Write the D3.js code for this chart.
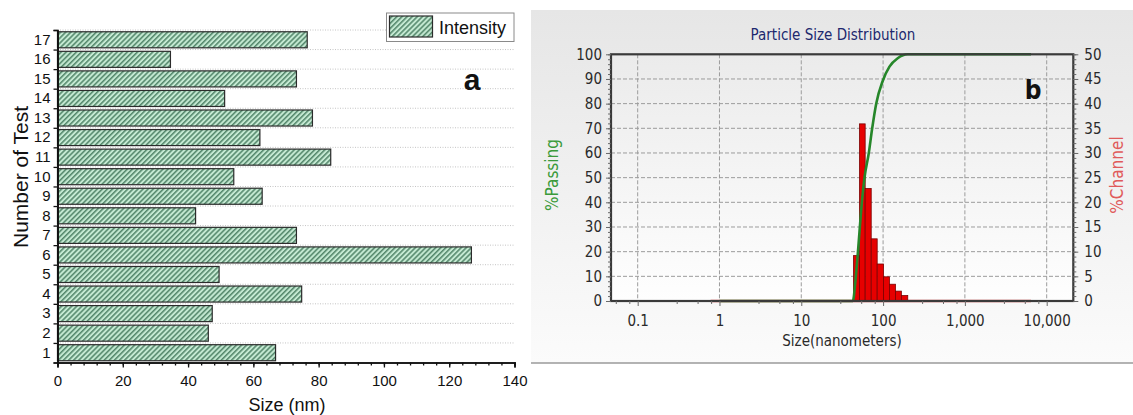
<!DOCTYPE html>
<html>
<head>
<meta charset="utf-8">
<script src="https://cdn.jsdelivr.net/npm/d3@7"></script>
<style>
body { margin: 0; background: #fff; }
text { font-family: "Liberation Sans", Arial, sans-serif; }
.pb text { font-family: "DejaVu Sans Condensed", "DejaVu Sans", sans-serif; }
</style>
</head>
<body>
<svg id="chart" width="1133" height="415"></svg>
<script>
// panel a: mean size of each test
const testIds = ["1","2","3","4","5","6","7","8","9","10","11","12","13","14","15","16","17"];
const testSizes = [66.8, 46.2, 47.4, 74.8, 49.5, 126.8, 73.2, 42.3, 62.7, 54.0, 83.7, 62.0, 78.1, 51.2, 73.2, 34.6, 76.5];
const sizeTicks = [0, 20, 40, 60, 80, 100, 120, 140];

// panel b: channel histogram (bin edges in nm) and cumulative passing curve
const channelEdges = [43.5, 51.5, 60.4, 71.6, 84.7, 101.2, 119.7, 141.6, 167.3, 200.3];
const channelPct = [9.2, 35.9, 22.8, 12.6, 7.5, 4.9, 3.4, 2.0, 1.1];
const channelSpan = [0.78, 6430];
const passSize = [1, 42.7, 46.0, 49.1, 54.9, 59.3, 66.9, 73.6, 82.4, 99.2, 119.7, 151, 200, 6430];
const passPct = [0, 0, 8.5, 19.3, 39.6, 50, 60, 70, 80, 89.3, 95, 98.4, 100, 100];
const decadeTicks = [0.1, 1, 10, 100, 1000, 10000];
const passTicks = [0, 10, 20, 30, 40, 50, 60, 70, 80, 90, 100];
const channelTicks = [0, 5, 10, 15, 20, 25, 30, 35, 40, 45, 50];

const svg = d3.select("#chart");
const defs = svg.append("defs");

const hatch = defs.append("pattern")
  .attr("id", "hatch")
  .attr("patternUnits", "userSpaceOnUse")
  .attr("width", 3.6).attr("height", 3.6)
  .attr("patternTransform", "rotate(45)");
hatch.append("rect").attr("width", 3.6).attr("height", 3.6).attr("fill", "#c4e9d2");
hatch.append("line").attr("x1", 0.8).attr("y1", 0).attr("x2", 0.8).attr("y2", 3.6)
  .attr("stroke", "#3f7558").attr("stroke-width", 1.3);

const gradPanel = defs.append("linearGradient").attr("id", "gpanel")
  .attr("x1", 0).attr("y1", 0).attr("x2", 0).attr("y2", 1);
gradPanel.append("stop").attr("offset", "0%").attr("stop-color", "#e6e6e6");
gradPanel.append("stop").attr("offset", "100%").attr("stop-color", "#fbfbfb");

const gradPlot = defs.append("linearGradient").attr("id", "gplot")
  .attr("x1", 0).attr("y1", 0).attr("x2", 0).attr("y2", 1);
gradPlot.append("stop").attr("offset", "0%").attr("stop-color", "#ebebeb");
gradPlot.append("stop").attr("offset", "100%").attr("stop-color", "#fefefe");

// ---------------- panel a ----------------
const pa = svg.append("g").attr("class", "pa");

const xA = d3.scaleLinear().domain([0, 140]).range([57.5, 514.5]);
const yA = d3.scaleBand().domain(testIds).range([362.5, 30]).paddingInner(0.18).paddingOuter(0.09);
const yBound = d3.scaleLinear().domain([0, 17]).range([362.5, 30]);

// dotted grid lines at the category boundaries
pa.append("g").selectAll("line")
  .data(d3.range(1, 18))
  .enter().append("line")
  .attr("x1", xA(0)).attr("x2", xA(140))
  .attr("y1", d => yBound(d)).attr("y2", d => yBound(d))
  .attr("stroke", "#c4c4c4").attr("stroke-dasharray", "1,1.5");

pa.append("g").selectAll("rect")
  .data(testSizes)
  .enter().append("rect")
  .attr("x", xA(0))
  .attr("y", (d, i) => yA(testIds[i]))
  .attr("width", d => xA(d) - xA(0))
  .attr("height", yA.bandwidth())
  .attr("fill", "url(#hatch)")
  .attr("stroke", "#2b2b2b").attr("stroke-width", 1.2);

pa.append("g").attr("transform", "translate(0,362.5)")
  .call(d3.axisBottom(xA).tickValues(sizeTicks).tickSize(5).tickPadding(8));
pa.append("g").attr("transform", "translate(0,362.5)")
  .call(d3.axisBottom(xA).tickValues(d3.range(0, 141, 4)).tickSize(3).tickFormat(""));

pa.append("g").attr("transform", "translate(57.5,0)")
  .call(d3.axisLeft(yBound).tickValues(d3.range(0, 18)).tickSize(4).tickFormat(""));
pa.append("g").attr("transform", "translate(57.5,0)")
  .call(d3.axisLeft(yA).tickSize(0).tickPadding(7));

pa.selectAll(".domain").attr("stroke", "#111").attr("stroke-width", 1.6);
pa.selectAll(".tick line").attr("stroke", "#111").attr("stroke-width", 1.3);
pa.selectAll(".tick text").attr("font-size", 15).attr("fill", "#111")
  .attr("font-family", "Liberation Sans, Arial, sans-serif");

pa.append("text")
  .attr("x", 287).attr("y", 411)
  .attr("text-anchor", "middle").attr("font-size", 18).attr("fill", "#111")
  .text("Size (nm)");
pa.append("text")
  .attr("transform", "translate(28,177) rotate(-90)")
  .attr("text-anchor", "middle").attr("font-size", 21).attr("fill", "#111")
  .text("Number of Test");

// legend
pa.append("rect").attr("x", 386.5).attr("y", 13).attr("width", 127.5).attr("height", 28.5)
  .attr("fill", "#fff").attr("stroke", "#8a8a8a");
pa.append("rect").attr("x", 389.5).attr("y", 16).attr("width", 43).attr("height", 21)
  .attr("fill", "url(#hatch)").attr("stroke", "#2b2b2b").attr("stroke-width", 1.2);
pa.append("text").attr("x", 439).attr("y", 33.5).attr("font-size", 18).attr("fill", "#111")
  .text("Intensity");

pa.append("text").attr("x", 472).attr("y", 90).attr("text-anchor", "middle")
  .attr("font-size", 30).attr("font-weight", "bold").attr("fill", "#111")
  .text("a");

// ---------------- panel b ----------------
const pb = svg.append("g").attr("class", "pb");

pb.append("rect").attr("x", 531).attr("y", 10).attr("width", 602).attr("height", 353)
  .attr("fill", "url(#gpanel)");
pb.append("line").attr("x1", 531).attr("x2", 1133).attr("y1", 363).attr("y2", 363)
  .attr("stroke", "#9a9a9a").attr("stroke-width", 1.5);

const xB = d3.scaleLog().domain([0.0472, 21150]).range([611, 1073.3]);
const yL = d3.scaleLinear().domain([0, 100]).range([301, 54.3]);
const yR = d3.scaleLinear().domain([0, 50]).range([301, 54.3]);

pb.append("rect").attr("x", 611).attr("y", 54.3).attr("width", 462.3).attr("height", 246.7)
  .attr("fill", "url(#gplot)");

// dashed grid
pb.append("g").selectAll("line")
  .data(passTicks.slice(1, -1))
  .enter().append("line")
  .attr("x1", 611).attr("x2", 1073.3)
  .attr("y1", d => yL(d)).attr("y2", d => yL(d))
  .attr("stroke", "#9c9c9c").attr("stroke-dasharray", "4,2");
pb.append("g").selectAll("line")
  .data(decadeTicks)
  .enter().append("line")
  .attr("x1", d => xB(d)).attr("x2", d => xB(d))
  .attr("y1", 54.3).attr("y2", 301)
  .attr("stroke", "#9c9c9c").attr("stroke-dasharray", "4,2");

// red channel trace at zero
pb.append("line")
  .attr("x1", xB(channelSpan[0])).attr("x2", xB(channelSpan[1]))
  .attr("y1", yR(0)).attr("y2", yR(0))
  .attr("stroke", "#e05555").attr("stroke-width", 2.5);

pb.append("g").selectAll("rect")
  .data(channelPct)
  .enter().append("rect")
  .attr("x", (d, i) => xB(channelEdges[i]))
  .attr("y", d => yR(d))
  .attr("width", (d, i) => xB(channelEdges[i + 1]) - xB(channelEdges[i]))
  .attr("height", d => yR(0) - yR(d))
  .attr("fill", "#e60000").attr("stroke", "#7a0000").attr("stroke-width", 0.8);

const passLine = d3.line()
  .x(d => xB(d[0]))
  .y(d => yL(d[1]))
  .curve(d3.curveMonotoneX);
pb.append("path")
  .datum(passSize.map((s, i) => [s, passPct[i]]))
  .attr("d", passLine)
  .attr("fill", "none").attr("stroke", "#26872a").attr("stroke-width", 2.6);

// frame
pb.append("rect").attr("x", 611).attr("y", 54.3).attr("width", 462.3).attr("height", 246.7)
  .attr("fill", "none").attr("stroke", "#3a3a3a").attr("stroke-width", 2.2);

// axes
const fmtX = d3.format(",");
pb.append("g").attr("transform", "translate(0,301)")
  .call(d3.axisBottom(xB).tickValues(decadeTicks).tickSize(5).tickPadding(9).tickFormat(d => fmtX(d)));
const minorX = [];
decadeTicks.concat([0.01]).forEach(d => [3, 5.4, 7.9].forEach(m => minorX.push(d * m)));
pb.append("g").attr("transform", "translate(0,301)")
  .call(d3.axisBottom(xB).tickValues(minorX.filter(v => v > 0.0472 && v < 21150)).tickSize(3).tickFormat(""));

pb.append("g").attr("transform", "translate(611,0)")
  .call(d3.axisLeft(yL).tickValues(passTicks).tickSize(5).tickPadding(4));
pb.append("g").attr("transform", "translate(611,0)")
  .call(d3.axisLeft(yL).tickValues(d3.range(0, 101, 2)).tickSize(3).tickFormat(""));
pb.append("g").attr("transform", "translate(1073.3,0)")
  .call(d3.axisRight(yR).tickValues(channelTicks).tickSize(5).tickPadding(6));
pb.append("g").attr("transform", "translate(1073.3,0)")
  .call(d3.axisRight(yR).tickValues(d3.range(0, 51, 1)).tickSize(3).tickFormat(""));

pb.selectAll(".domain").remove();
pb.selectAll(".tick line").attr("stroke", "#6a6a6a");
pb.selectAll(".tick text").attr("font-size", 15).attr("fill", "#2a2a2a")
  .attr("font-family", "DejaVu Sans Condensed, DejaVu Sans, sans-serif");

pb.append("text").attr("x", 833).attr("y", 40).attr("text-anchor", "middle")
  .attr("font-size", 15).attr("fill", "#20286e")
  .text("Particle Size Distribution");
pb.append("text").attr("x", 842).attr("y", 345.5).attr("text-anchor", "middle")
  .attr("font-size", 15).attr("fill", "#2a2a2a")
  .text("Size(nanometers)");
pb.append("text").attr("transform", "translate(558,175) rotate(-90)")
  .attr("text-anchor", "middle").attr("font-size", 17).attr("fill", "#3a9a3a")
  .text("%Passing");
pb.append("text").attr("transform", "translate(1123,175) rotate(-90)")
  .attr("text-anchor", "middle").attr("font-size", 17).attr("fill", "#e05a5a")
  .text("%Channel");

pb.append("text").attr("x", 1033).attr("y", 99).attr("text-anchor", "middle")
  .attr("font-size", 26).attr("font-weight", "bold").attr("fill", "#111")
  .attr("font-family", "Liberation Sans, Arial, sans-serif")
  .text("b");
</script>
</body>
</html>
